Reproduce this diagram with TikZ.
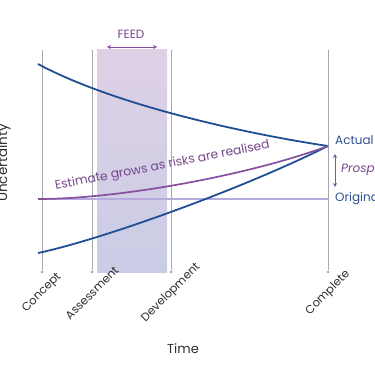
\documentclass[tikz,border=0pt]{standalone}
\usepackage{fontspec}
\setmainfont{Poppins}
\usetikzlibrary{arrows.meta,calc,positioning}
\definecolor{Ink}{HTML}{2E2E33}
\definecolor{Navy}{HTML}{1F4E94}
\definecolor{NavyText}{HTML}{2D4F8E}
\definecolor{Plum}{HTML}{87509F}
\definecolor{PlumText}{HTML}{74468C}
\definecolor{Lilac}{HTML}{B7ABDD}
\definecolor{LineGray}{HTML}{A8A8AC}
\definecolor{FeedTop}{HTML}{DED1E5}
\definecolor{FeedBottom}{HTML}{CACCE6}
\tikzset{
  phaseline/.style={draw=LineGray, line width=0.8pt},
  phasedot/.style={circle, fill=LineGray, inner sep=0pt, minimum size=3pt},
  phaselabel/.style={rotate=45, text=Ink, font=\fontsize{11.5}{13}\selectfont},
  bound/.style={draw=Navy, line width=1.8pt},
  estimate/.style={draw=Plum, line width=1.7pt},
  origline/.style={draw=Lilac, line width=1.2pt},
  span/.style={{Stealth[length=4pt,width=4pt]}-{Stealth[length=4pt,width=4pt]}, draw=Plum, line width=0.8pt},
  sidelabel/.style={anchor=west, inner sep=0pt, font=\fontsize{12}{14}\selectfont}
}

\begin{document}
\begin{tikzpicture}[x=1pt,y=-1pt]
  \useasboundingbox (0,0) rectangle (375,366);
  % FEED band
  \shade[top color=FeedTop,bottom color=FeedBottom] (97,50) rectangle (167,273);
  \node[text=PlumText,font=\fontsize{12}{14}\selectfont] (feed) at (131,34) {FEED};
  \coordinate (feedL) at (107,47);
  \coordinate (feedR) at (157,47);
  \draw[span] (feedL) -- (feedR);
  % phases
  \foreach \name/\x/\lab in {concept/42/Concept,assess/92/Assessment,develop/171/Development,complete/328/Complete}{
    \coordinate (\name top) at (\x,50);
    \node[phasedot] (\name) at (\x,272) {};
    \draw[phaseline] (\name top) -- (\name);
    \node[phaselabel] (\name label) at (\x,293) {\lab};
  }
  % estimate lines
  \coordinate (topstart) at (38,64);
  \coordinate (lowstart) at (38,253);
  \coordinate (eststart) at (38,199);
  \coordinate (origend) at (328,199);
  \coordinate (meet) at (328,146);
  \draw[origline] (eststart) -- (origend);
  \draw[bound] (topstart) .. controls (120,108) and (260,136) .. (meet);
  \draw[bound] (lowstart) .. controls (100,240) and (240,190) .. (meet);
  \draw[estimate] (eststart) .. controls (120,199) and (250,175) .. (meet);
  \node[rotate=11,anchor=base,text=PlumText,font=\fontsize{12.3}{14}\selectfont] (growlabel) at (163,169) {Estimate grows as risks are realised};
  % right labels
  \node[sidelabel,text=NavyText] (actual) at (335,140) {Actual};
  \node[sidelabel,text=PlumText,font=\fontsize{12}{14}\itshape] (prospect) at (341,170) {Prospect};
  \node[sidelabel,text=NavyText] (original) at (335,199) {Original};
  \coordinate (spantop) at (335,154);
  \coordinate (spanbot) at (335,187);
  \draw[span] (spantop) -- (spanbot);
  % axes
  \node[text=Ink,font=\fontsize{13}{15}\selectfont] (timelabel) at (183,349) {Time};
  \node[rotate=90,anchor=base,inner sep=0pt,text=Ink,font=\fontsize{13.5}{15}\selectfont] (uncert) at (7,163) {Uncertainty};
\end{tikzpicture}
\end{document}
